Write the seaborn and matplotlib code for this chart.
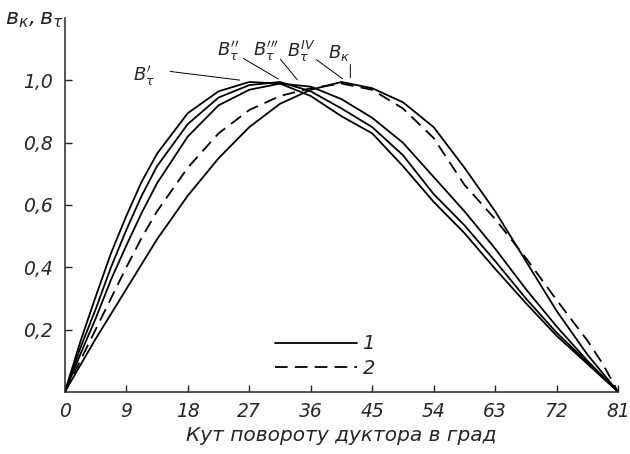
import matplotlib
matplotlib.use('Agg')
import matplotlib.pyplot as plt
import seaborn as sns
import pandas as pd
from matplotlib.lines import Line2D

# values (angle in degrees)
angle = [0, 2.25, 4.5, 6.75, 9, 11.25, 13.5, 18, 22.5, 27, 31.5, 36, 40.5,
         45, 49.5, 54, 58.5, 63, 67.5, 72, 76.5, 78.75, 81]
b_tau1 = [0, 0.16, 0.305, 0.445, 0.565, 0.675, 0.765, 0.895, 0.965, 0.995,
          0.99, 0.95, 0.885, 0.83, 0.725, 0.61, 0.51, 0.395, 0.285, 0.18,
          0.09, 0.045, 0]
b_tau2 = [0, 0.14, 0.265, 0.40, 0.52, 0.63, 0.725, 0.86, 0.945, 0.985,
          0.995, 0.965, 0.91, 0.85, 0.76, 0.635, 0.535, 0.42, 0.30, 0.19,
          0.095, 0.048, 0]
b_tau3 = [0, 0.12, 0.235, 0.36, 0.47, 0.575, 0.67, 0.82, 0.92, 0.97,
          0.99, 0.98, 0.94, 0.88, 0.80, 0.69, 0.58, 0.46, 0.33, 0.21,
          0.10, 0.05, 0]
b_tau4 = [0, 0.10, 0.20, 0.30, 0.40, 0.495, 0.58, 0.72, 0.83, 0.905,
          0.95, 0.975, 0.99, 0.97, 0.91, 0.815, 0.665, 0.555, 0.43, 0.295,
          0.165, 0.09, 0]
b_k = [0, 0.085, 0.17, 0.25, 0.33, 0.41, 0.49, 0.63, 0.75, 0.85,
       0.925, 0.97, 0.995, 0.975, 0.93, 0.85, 0.72, 0.58, 0.42, 0.26,
       0.12, 0.06, 0]

curves = {'t1': b_tau1, 't2': b_tau2, 't3': b_tau3, 't4': b_tau4, 'k': b_k}
kinds = {'t1': '1', 't2': '1', 't3': '1', 't4': '2', 'k': '1'}

rows = []
for name, vals in curves.items():
    for a, v in zip(angle, vals):
        rows.append({'angle': a, 'value': v, 'curve': name, 'kind': kinds[name]})
df = pd.DataFrame(rows)

sns.set_style('ticks')
plt.rcParams['font.family'] = ['DejaVu Sans']
plt.rcParams['font.style'] = 'italic'
plt.rcParams['mathtext.fontset'] = 'dejavusans'

fig = plt.figure(figsize=(6.3, 4.54), dpi=100)
ax = fig.add_axes([0.103, 0.137, 0.878, 0.823])

for name in curves:
    sub = df[df['curve'] == name]
    ls = '-' if kinds[name] == '1' else (0, (7, 4))
    sns.lineplot(data=sub, x='angle', y='value', ax=ax, color='black',
                 lw=1.3, linestyle=ls, estimator=None, sort=False)

ax.set_xlim(0, 81)
ax.set_ylim(0, 1.2)
ax.set_xticks([0, 9, 18, 27, 36, 45, 54, 63, 72, 81])
ax.set_xticklabels(['0', '9', '18', '27', '36', '45', '54', '63', '72', '81'])
ax.set_yticks([0.2, 0.4, 0.6, 0.8, 1.0])
ax.set_yticklabels(['0,2', '0,4', '0,6', '0,8', '1,0'])
ax.tick_params(direction='in', length=5, width=1, labelsize=13.5, pad=7)
ax.tick_params(axis='y', pad=9)
sns.despine(ax=ax)
for s in ['left', 'bottom']:
    ax.spines[s].set_linewidth(1.1)

ax.set_xlabel('Кут повороту дуктора в град', fontsize=14.5, labelpad=4)
ax.set_ylabel('')
fig.text(0.008, 0.955, r'$в_к, в_\tau$', fontsize=16, ha='left', va='center')

# curve labels with leader lines
labels = [(r"$B^{\prime}_\tau$", (11.6, 1.013), (26.0, 1.0), (15.0, 1.03)),
          (r"$B^{\prime\prime}_\tau$", (23.9, 1.093), (31.6, 1.0), (25.8, 1.075)),
          (r"$B^{\prime\prime\prime}_\tau$", (29.4, 1.093), (34.3, 0.995), (31.3, 1.075)),
          (r"$B^{IV}_\tau$", (34.6, 1.093), (41.0, 1.0), (36.5, 1.072)),
          (r"$B_к$", (40.2, 1.087), (41.8, 1.0), (41.8, 1.06))]
for txt, pos, tip, start in labels:
    ax.text(pos[0], pos[1], txt, fontsize=13, ha='center', va='center')
    ax.annotate('', xy=tip, xytext=start,
                arrowprops=dict(arrowstyle='-', lw=0.7, color='black'))

handles = [Line2D([], [], color='black', lw=1.3),
           Line2D([], [], color='black', lw=1.3, linestyle=(0, (7, 4)))]
ax.legend(handles, ['1', '2'], loc='center', bbox_to_anchor=(0.47, 0.095),
          frameon=False, handlelength=4.2, handletextpad=0.3,
          labelspacing=0.3, fontsize=14)

fig.savefig('out.png', dpi=100)
